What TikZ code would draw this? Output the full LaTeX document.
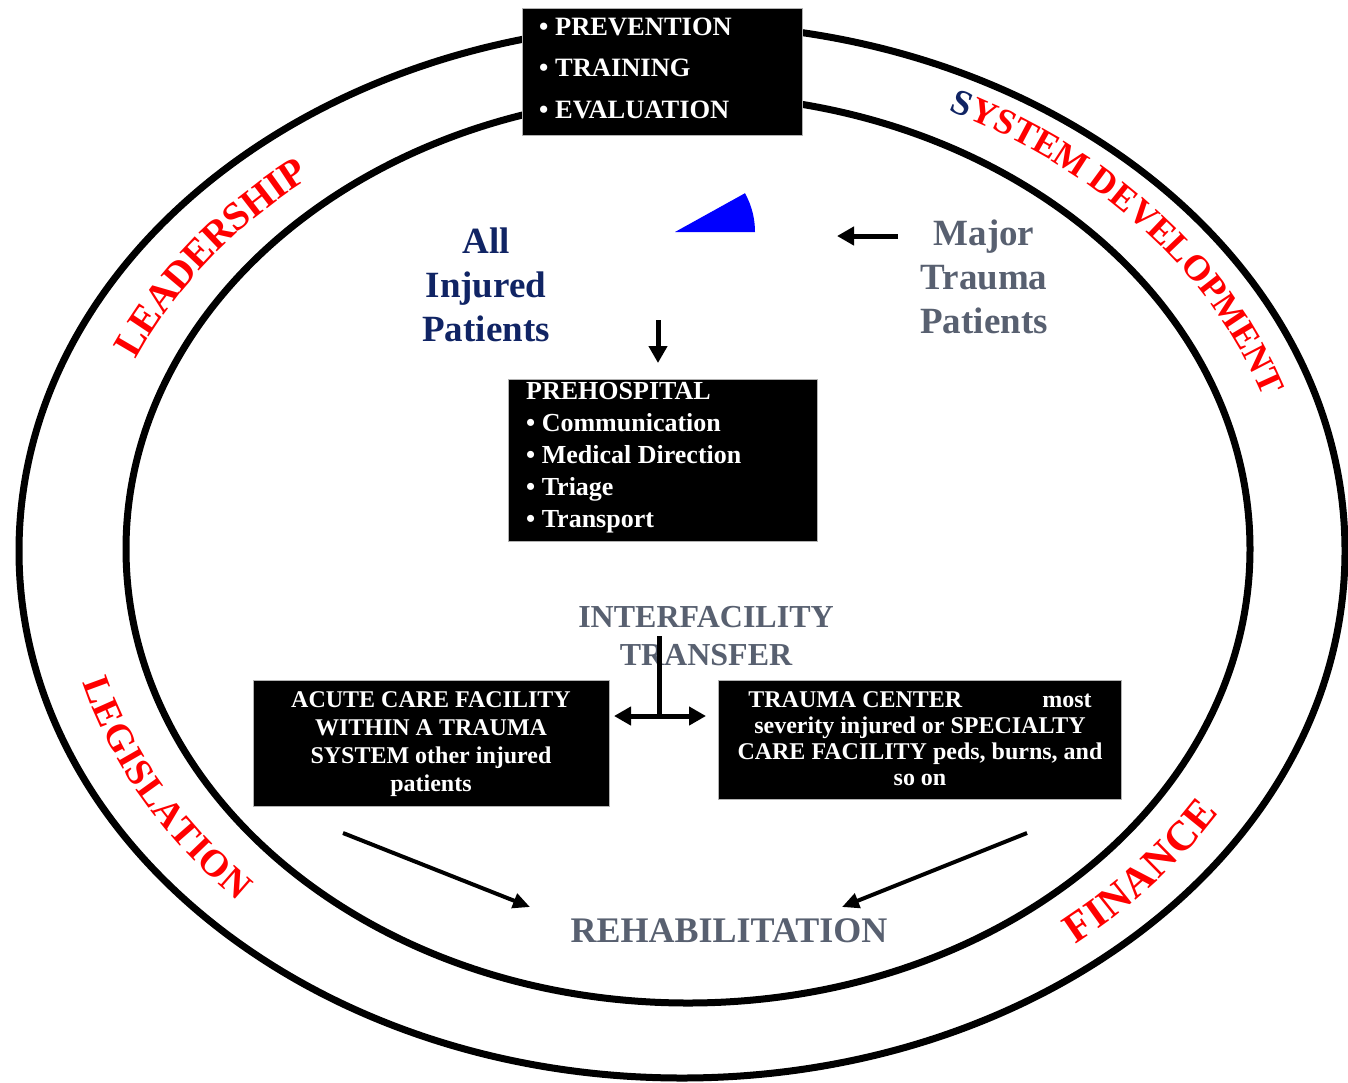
\documentclass[tikz,border=0pt]{standalone}
\usepackage{fontspec}
\setmainfont{Liberation Serif}
\usetikzlibrary{arrows.meta,decorations.text,calc}

\definecolor{navyc}{RGB}{16,36,100}
\definecolor{slatec}{RGB}{88,96,112}
\definecolor{wedgec}{RGB}{0,0,255}
\definecolor{redc}{RGB}{255,0,0}

% fonts for the words set along the ring
\newcommand\ringfontA{\bfseries\fontsize{40}{40}\selectfont\color{redc}}
\newcommand\ringfontB{\bfseries\fontsize{36}{36}\selectfont\color{redc}}
\newcommand\ringfontBS{\bfseries\fontsize{36}{36}\selectfont\color{navyc}}
\newcommand\ringfontC{\bfseries\fontsize{38}{38}\selectfont\color{redc}}
\newcommand\ringfontD{\bfseries\fontsize{42}{42}\selectfont\color{redc}}

\tikzset{
  ring/.style={line width=7pt},
  darkbox/.style={fill=black, draw=gray!60, line width=0.8pt, inner sep=0pt},
  boxlines/.style={text=white, inner sep=0pt},
  bigword/.style={inner sep=0pt, align=center, font=\bfseries\fontsize{37}{44}\selectfont},
  fatarrow/.style={line width=5pt, -{Triangle[length=17pt,width=18pt]}},
  twoway/.style={line width=5pt, {Triangle[length=17pt,width=18pt]}-{Triangle[length=17pt,width=18pt]}},
  slimarrow/.style={line width=4pt, -{Triangle[length=17pt,width=15pt]}},
  ringtext/.style={decorate, decoration={text along path, text align=center, #1}}
}

\begin{document}
\begin{tikzpicture}[x=1pt,y=-1pt]
\useasboundingbox (0,0) rectangle (1348,1082);

% the two rings
\draw[ring] (682,551) ellipse [x radius=663, y radius=527];
\draw[ring] (688,549) ellipse [x radius=562, y radius=454];

% words along the ring (middle line of the band)
\path[ringtext={text={|\ringfontA|LEADERSHIP}, raise=-13pt}]
  plot[domain=195:239, samples=60] ({685+612*cos(\x)},{550+490*sin(\x)});
\path[ringtext={text={|\ringfontBS|S|\ringfontB|YSTEM DEVELOPMENT}, raise=-3pt}]
  plot[domain=292:346, samples=60] ({685+612*cos(\x)},{550+490*sin(\x)});
\path[ringtext={text={|\ringfontC|LEGISLATION}, raise=-12.5pt}]
  plot[domain=176:126, samples=60] ({685+612*cos(\x)},{550+490*sin(\x)});
\path[ringtext={text={|\ringfontD|FINANCE}, raise=-14pt}]
  plot[domain=63:18, samples=60] ({685+612*cos(\x)},{550+490*sin(\x)});

% top box (multi-line texts are placed by the baseline of their last line)
\node[darkbox, minimum width=280pt, minimum height=127pt, anchor=north west] (topbox) at (522,8) {};
\node[boxlines, anchor=base west, align=left, font=\bfseries\fontsize{26.5}{41.5}\selectfont]
  (toptext) at (539,118) {• PREVENTION\\• TRAINING\\• EVALUATION};

% blue sector
\fill[wedgec] (675,232) -- plot[domain=0:29, samples=12] ({675+80*cos(\x)},{232-80*sin(\x)}) -- cycle;

% patient groups
\node[bigword, text=navyc, anchor=base] (allinj) at (486,341) {All\\Injured\\Patients};
\node[bigword, text=slatec, anchor=base] (major) at (984,333) {Major\\Trauma\\Patients};

\coordinate (mfrom) at (898,236);
\coordinate (mto) at (837,236);
\draw[fatarrow] (mfrom) -- (mto);

% prehospital box
\node[darkbox, minimum width=309pt, minimum height=162pt, anchor=north west] (pre) at (508,379) {};
\node[boxlines, anchor=base west, align=left, font=\bfseries\fontsize{26}{32}\selectfont]
  (pretext) at (526,527) {PREHOSPITAL\\• Communication\\• Medical Direction\\• Triage\\• Transport};

\coordinate (dfrom) at (658,320);
\coordinate (dto) at (658,363);
\draw[fatarrow] (dfrom) -- (dto);

% interfacility transfer
\node[inner sep=0pt, align=center, text=slatec, anchor=base, font=\bfseries\fontsize{32}{38}\selectfont]
  (inter) at (706,665) {INTERFACILITY\\TRANSFER};

% facility boxes
\node[darkbox, minimum width=356pt, minimum height=126pt, anchor=north west] (acute) at (253,680) {};
\node[boxlines, anchor=base, align=center, font=\bfseries\fontsize{24}{27.7}\selectfont]
  (acutetext) at (431,791) {ACUTE CARE FACILITY\\WITHIN A TRAUMA\\SYSTEM other injured\\patients};

\node[darkbox, minimum width=403pt, minimum height=119pt, anchor=north west] (trauma) at (718,680) {};
\node[boxlines, anchor=base, align=center, font=\bfseries\fontsize{24}{26}\selectfont]
  (traumatext) at (920,785) {TRAUMA CENTER\hspace{80pt}most\\severity injured or SPECIALTY\\CARE FACILITY peds, burns, and\\so on};

\coordinate (tstem) at (659,636);
\coordinate (tjoin) at (659,716);
\coordinate (tleft) at (614,716);
\coordinate (tright) at (706,716);
\draw[line width=5pt] (tstem) -- (tjoin);
\draw[twoway] (tleft) -- (tright);

% rehabilitation
\node[inner sep=0pt, text=slatec, anchor=base, font=\bfseries\fontsize{36}{36}\selectfont]
  (rehab) at (729,942) {REHABILITATION};

\coordinate (rl) at (343,833);
\coordinate (rlto) at (530,907);
\coordinate (rr) at (1027,833);
\coordinate (rrto) at (842,907);
\draw[slimarrow] (rl) -- (rlto);
\draw[slimarrow] (rr) -- (rrto);
\end{tikzpicture}
\end{document}
